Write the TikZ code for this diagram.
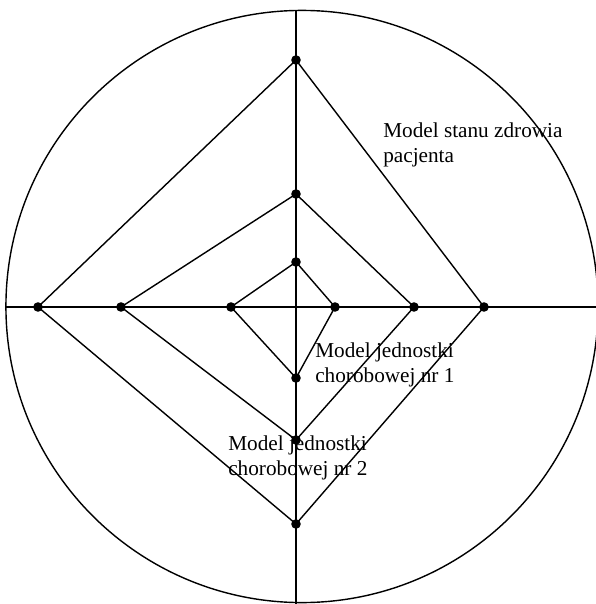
\documentclass[tikz,border=0pt]{standalone}
\usepackage{fontspec}
\setmainfont{Liberation Serif}
\usepackage{tikz}
\tikzset{
  ln/.style={line width=1pt, black},
  pt/.style={circle, fill=black, inner sep=0pt, minimum size=0.24cm},
  lbl/.style={anchor=west, inner sep=0pt, align=left, font=\fontsize{15.1}{17.8}\selectfont},
}

\begin{document}
\begin{tikzpicture}[x=0.025cm,y=-0.025cm]
  \useasboundingbox (0,0) rectangle (596,604);
  \clip (0,0) rectangle (596,604);
  % outer circle and axes
  \coordinate (O) at (302,306.5);
  \draw[ln] (O) circle (7.4cm);
  \coordinate (axT) at (296,11);
  \coordinate (axB) at (296,604);
  \coordinate (axL) at (6,307);
  \coordinate (axR) at (596,307);
  \draw[ln] (axT) -- (axB);
  \draw[ln] (axL) -- (axR);
  % points on the axes
  \node[pt] (t3) at (296,60) {};
  \node[pt] (t2) at (296,194) {};
  \node[pt] (t1) at (296,262) {};
  \node[pt] (l3) at (38,307) {};
  \node[pt] (l2) at (121,307) {};
  \node[pt] (l1) at (231,307) {};
  \node[pt] (r1) at (335,307) {};
  \node[pt] (r2) at (414,307) {};
  \node[pt] (r3) at (484,307) {};
  \node[pt] (b1) at (296,378) {};
  \node[pt] (b2) at (296,440) {};
  \node[pt] (b3) at (296,524) {};
  % the three models
  \draw[ln] (t1.center) -- (r1.center) -- (b1.center) -- (l1.center) -- cycle;
  \draw[ln] (t2.center) -- (r2.center) -- (b2.center) -- (l2.center) -- cycle;
  \draw[ln] (t3.center) -- (r3.center) -- (b3.center) -- (l3.center) -- cycle;
  % labels
  \node[lbl] (zdr) at (383,144.5) {Model stanu zdrowia\\pacjenta};
  \node[lbl] (jc1) at (315,364.5) {Model jednostki\\chorobowej nr 1};
  \node[lbl] (jc2) at (228,457.5) {Model jednostki\\chorobowej nr 2};
\end{tikzpicture}
\end{document}
